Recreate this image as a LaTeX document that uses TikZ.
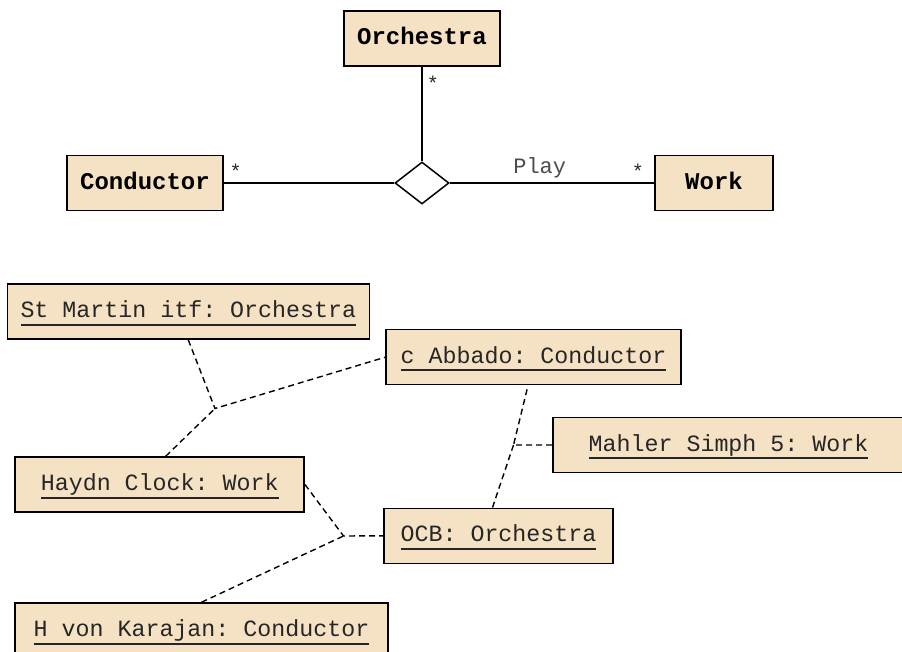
\documentclass[tikz,border=0pt]{standalone}
\usepackage{fontspec}
\setmonofont{Liberation Mono}
\usetikzlibrary{shapes}
\usetikzlibrary{positioning}
\definecolor{wheat}{RGB}{245,225,195}

\tikzset{
  classbox/.style={draw, line width=1.5pt, fill=wheat, minimum height=55pt, inner sep=0pt,
    font=\ttfamily\bfseries\fontsize{24}{28}\selectfont, text height=19pt, text depth=6pt},
  objbox/.style={draw, line width=1.5pt, fill=wheat, minimum height=55pt, inner sep=0pt,
    font=\ttfamily\fontsize{23.3}{28}\selectfont, text=black!85, text height=18pt, text depth=6pt},
  link/.style={line width=1.5pt},
  objlink/.style={line width=1.4pt, dash pattern=on 6pt off 4pt},
  mult/.style={font=\ttfamily\fontsize{20}{24}\selectfont, inner sep=1pt, text=black!85},
  assoc/.style={font=\ttfamily\fontsize{22}{26}\selectfont, inner sep=1pt, text=black!70}
}
\newcommand{\objname}[1]{\setbox0\hbox{#1}\copy0\llap{\rule[-8pt]{\wd0}{2pt}}}

\begin{document}
\begin{tikzpicture}[x=1pt, y=-1pt]
  \useasboundingbox (0,0) rectangle (902,652);

  % class diagram
  \node[classbox, minimum width=156pt] (orch) at (422,38.5) {Orchestra};
  \node[classbox, minimum width=156pt] (cond) at (145,183) {Conductor};
  \node[classbox, minimum width=118pt] (work) at (714,183) {Work};
  \node[draw, diamond, fill=white, line width=1.5pt, minimum width=54pt, minimum height=42pt,
    inner sep=0pt] (play) at (422,183) {};

  \draw[link] (orch) -- node[mult, pos=0.18, right=3pt] {*} (play);
  \draw[link] (cond) -- node[mult, pos=0.07, above=3pt] {*} (play);
  \draw[link] (play) -- node[assoc, pos=0.44, above=3pt] {Play}
    node[mult, pos=0.92, above=3pt] {*} (work);

  % object diagram
  \node[objbox, minimum width=362pt] (stmartin) at (188.3,311.7) {\objname{St Martin itf: Orchestra}};
  \node[objbox, minimum width=295pt] (abbado) at (533.5,357.2) {\objname{c Abbado: Conductor}};
  \node[objbox, minimum width=351pt] (mahler) at (728.5,445) {\objname{Mahler Simph 5: Work}};
  \node[objbox, minimum width=289pt] (haydn) at (159.7,484.5) {\objname{Haydn Clock: Work}};
  \node[objbox, minimum width=229pt] (ocb) at (498.5,535.8) {\objname{OCB: Orchestra}};
  \node[objbox, minimum width=373pt] (karajan) at (201.5,630.5) {\objname{H von Karajan: Conductor}};

  \coordinate (j1) at (215,408.5);
  \coordinate (j2) at (343.5,536);
  \coordinate (j3) at (513.5,445);

  \draw[objlink] (stmartin.south) -- (j1) -- (abbado.west);
  \draw[objlink] (haydn.78) -- (j1);
  \draw[objlink] (haydn.east) -- (j2) -- (ocb.west);
  \draw[objlink] (karajan.north) -- (j2);
  \draw[objlink, shorten <=4pt] (abbado.259) -- (j3) -- (mahler.west);
  \draw[objlink] (ocb.102) -- (j3);
\end{tikzpicture}
\end{document}
